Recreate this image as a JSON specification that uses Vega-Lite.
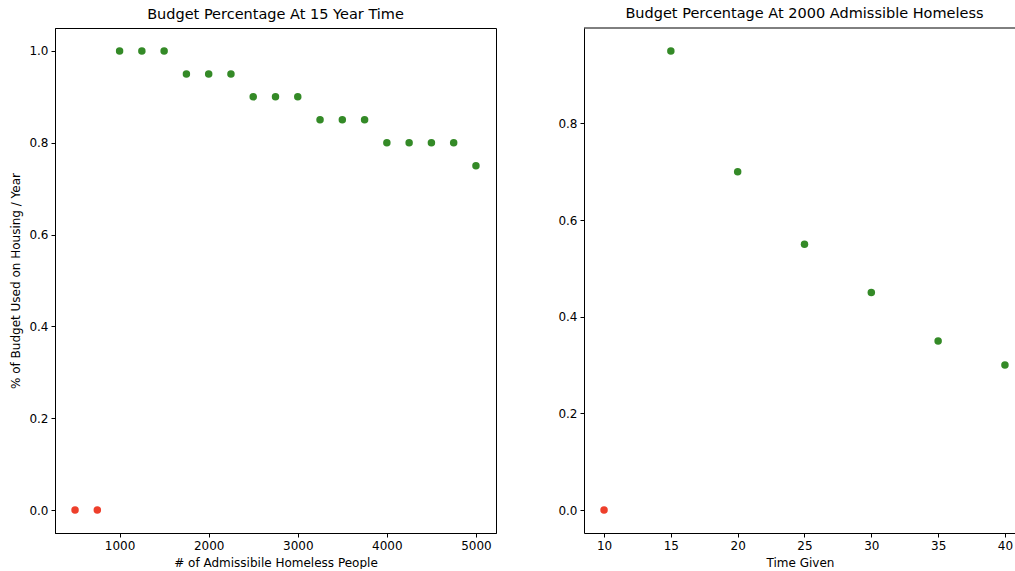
{
  "$schema": "https://vega.github.io/schema/vega-lite/v6.json",
  "padding": {"left": 9, "top": 6, "right": 0, "bottom": 0},
  "background": "white",
  "bounds": "flush",
  "spacing": 88,
  "datasets": {
    "people": [
      {"people": 500, "pct": 0.0, "status": "zero"},
      {"people": 750, "pct": 0.0, "status": "zero"},
      {"people": 1000, "pct": 1.0, "status": "positive"},
      {"people": 1250, "pct": 1.0, "status": "positive"},
      {"people": 1500, "pct": 1.0, "status": "positive"},
      {"people": 1750, "pct": 0.95, "status": "positive"},
      {"people": 2000, "pct": 0.95, "status": "positive"},
      {"people": 2250, "pct": 0.95, "status": "positive"},
      {"people": 2500, "pct": 0.9, "status": "positive"},
      {"people": 2750, "pct": 0.9, "status": "positive"},
      {"people": 3000, "pct": 0.9, "status": "positive"},
      {"people": 3250, "pct": 0.85, "status": "positive"},
      {"people": 3500, "pct": 0.85, "status": "positive"},
      {"people": 3750, "pct": 0.85, "status": "positive"},
      {"people": 4000, "pct": 0.8, "status": "positive"},
      {"people": 4250, "pct": 0.8, "status": "positive"},
      {"people": 4500, "pct": 0.8, "status": "positive"},
      {"people": 4750, "pct": 0.8, "status": "positive"},
      {"people": 5000, "pct": 0.75, "status": "positive"}
    ],
    "time": [
      {"time": 10, "pct": 0.0, "status": "zero"},
      {"time": 15, "pct": 0.95, "status": "positive"},
      {"time": 20, "pct": 0.7, "status": "positive"},
      {"time": 25, "pct": 0.55, "status": "positive"},
      {"time": 30, "pct": 0.45, "status": "positive"},
      {"time": 35, "pct": 0.35, "status": "positive"},
      {"time": 40, "pct": 0.3, "status": "positive"}
    ]
  },
  "hconcat": [
    {
      "width": 441,
      "height": 505,
      "title": "Budget Percentage At 15 Year Time",
      "data": {"name": "people"},
      "mark": {"type": "circle", "size": 56, "opacity": 1},
      "encoding": {
        "x": {
          "field": "people", "type": "quantitative",
          "scale": {"domain": [275, 5225], "nice": false, "zero": false},
          "axis": {"values": [1000, 2000, 3000, 4000, 5000], "format": "d", "title": "# of Admissibile Homeless People", "titlePadding": 6}
        },
        "y": {
          "field": "pct", "type": "quantitative",
          "scale": {"domain": [-0.05, 1.05], "nice": false, "zero": false},
          "axis": {"values": [0, 0.2, 0.4, 0.6, 0.8, 1.0], "format": ".1f", "title": "% of Budget Used on Housing / Year", "titlePadding": 6}
        },
        "color": {
          "field": "status", "type": "nominal",
          "scale": {"domain": ["zero", "positive"], "range": ["#ee3f2b", "#348a27"]},
          "legend": null
        }
      }
    },
    {
      "width": 432,
      "height": 505,
      "title": {"text": "Budget Percentage At 2000 Admissible Homeless", "dx": 4.5},
      "view": {"stroke": null},
      "layer": [
        {
          "data": {"name": "time"},
          "mark": {"type": "circle", "size": 56, "opacity": 1},
          "encoding": {
            "x": {
              "field": "time", "type": "quantitative",
              "scale": {"domain": [8.5, 40.827], "nice": false, "zero": false},
              "axis": {"values": [10, 15, 20, 25, 30, 35, 40], "format": "d", "title": "Time Given", "titlePadding": 6}
            },
            "y": {
              "field": "pct", "type": "quantitative",
              "scale": {"domain": [-0.0475, 0.9975], "nice": false, "zero": false},
              "axis": {"values": [0, 0.2, 0.4, 0.6, 0.8], "format": ".1f", "title": null}
            },
            "color": {
              "field": "status", "type": "nominal",
              "scale": {"domain": ["zero", "positive"], "range": ["#ee3f2b", "#348a27"]},
              "legend": null
            }
          }
        },
        {
          "data": {"values": [{}]},
          "mark": {"type": "rule", "color": "black", "strokeWidth": 1},
          "encoding": {"y": {"datum": 0.9975}}
        }
      ]
    }
  ],
  "config": {
    "axis": {
      "grid": false,
      "domainColor": "#000",
      "tickColor": "#000",
      "labelColor": "#000",
      "titleColor": "#000",
      "labelFont": "DejaVu Sans",
      "titleFont": "DejaVu Sans",
      "labelFontSize": 12,
      "titleFontSize": 12,
      "titleFontWeight": "normal",
      "tickSize": 4,
      "labelPadding": 3
    },
    "view": {"stroke": "#000", "strokeWidth": 1},
    "title": {"font": "DejaVu Sans", "fontSize": 14.5, "fontWeight": "normal", "color": "#000", "offset": 6}
  }
}
